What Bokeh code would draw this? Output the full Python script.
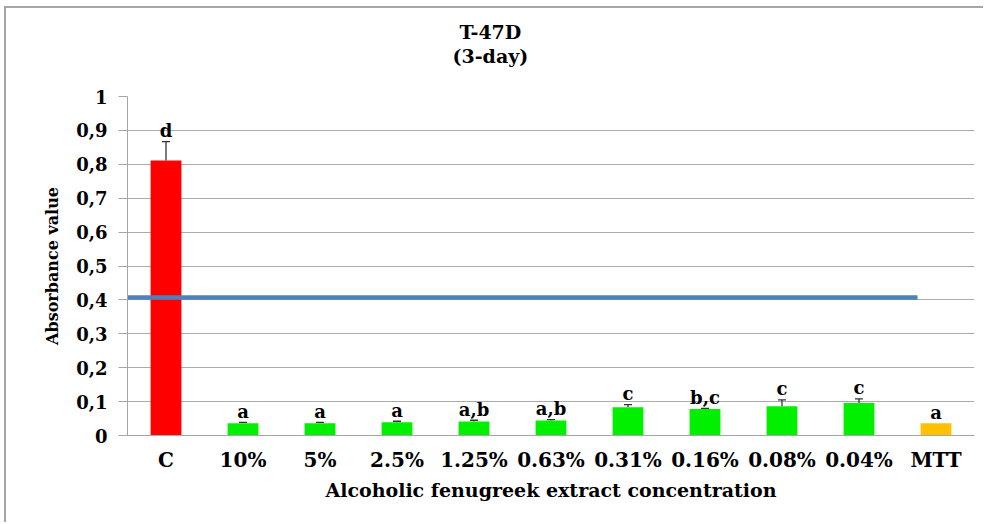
from bokeh.plotting import figure
from bokeh.models import (Range1d, FixedTicker, CustomJSTickFormatter, ColumnDataSource,
                          Whisker, TeeHead, Title)
from bokeh.embed import file_html
from bokeh.resources import INLINE
from bokeh.core.properties import value

# ---- data ----
categories = ["C", "10%", "5%", "2.5%", "1.25%", "0.63%", "0.31%", "0.16%", "0.08%", "0.04%", "MTT"]
absorbance = [0.811, 0.036, 0.036, 0.039, 0.041, 0.044, 0.083, 0.078, 0.086, 0.096, 0.036]
error = [0.056, 0.003, 0.003, 0.003, 0.004, 0.003, 0.008, 0.002, 0.019, 0.012, 0.0]
letters = ["d", "a", "a", "a", "a,b", "a,b", "c", "b,c", "c", "c", "a"]
bar_colors = ["#FF0000"] + ["#00F000"] * 9 + ["#FFC000"]
reference_level = 0.407
reference_x = [0.0, 10.26]
y_ticks = [0, 0.1, 0.2, 0.3, 0.4, 0.5, 0.6, 0.7, 0.8, 0.9, 1.0]
title_lines = ["T-47D", "(3-day)"]

FONT = "DejaVu Serif"

xs = [i + 0.5 for i in range(len(categories))]
tops = [v + e for v, e in zip(absorbance, error)]

src = ColumnDataSource(dict(x=xs, top=absorbance, color=bar_colors, upper=tops,
                            letter=letters, cat=categories))
wsrc = ColumnDataSource(dict(
    x=[x for x, e in zip(xs, error) if e > 0],
    lower=[v for v, e in zip(absorbance, error) if e > 0],
    upper=[t for t, e in zip(tops, error) if e > 0],
))

p = figure(width=979, height=516, output_backend="svg", toolbar_location=None,
           x_range=Range1d(0, len(categories)), y_range=Range1d(0, 1),
           min_border_left=121, min_border_right=11, min_border_top=88, min_border_bottom=89)
p.styles = {"border-top": "2px solid #a6a6a6", "border-left": "2px solid #a6a6a6",
            "margin-left": "4px", "margin-top": "6px"}
p.outline_line_color = None

p.vbar(x="x", top="top", width=0.4, bottom=0, color="color", line_color=None, source=src)

p.add_layout(Whisker(base="x", lower="lower", upper="upper", source=wsrc,
                     line_color="#333333", line_width=1.3,
                     upper_head=TeeHead(size=8, line_color="#333333", line_width=1.3),
                     lower_head=None))

p.line(x=reference_x, y=[reference_level, reference_level], line_color="#4F81BD", line_width=4.5)

p.text(x="x", y="upper", text="letter", source=src, text_align="center",
       text_baseline="alphabetic", y_offset=-11, text_font=value(FONT),
       text_font_style="bold", text_font_size="18px", text_color="#000000")

# titles
p.title.text = title_lines[0]
p.title.align = "left"
p.title.offset = 332
p.title.standoff = 0
p.title.text_font = FONT
p.title.text_font_style = "bold"
p.title.text_font_size = "19px"
p.title.text_color = "#000000"
# empty spacer between plot and the second title line
p.add_layout(Title(text=" ", standoff=27, text_font_size="1px"), "above")
p.add_layout(Title(text=title_lines[1], align="left", offset=325, standoff=0,
                   text_font=FONT, text_font_style="bold", text_font_size="19px",
                   text_line_height=1.0, text_color="#000000"), "above")

# axes
p.xaxis.ticker = FixedTicker(ticks=xs)
p.xaxis.major_label_overrides = {x: c for x, c in zip(xs, categories)}
p.xaxis.major_tick_out = 0
p.xaxis.major_tick_in = 0
p.xaxis.minor_tick_line_color = None
p.xaxis.axis_line_color = "#a6a6a6"
p.xaxis.major_label_text_font = FONT
p.xaxis.major_label_text_font_style = "bold"
p.xaxis.major_label_text_font_size = "20px"
p.xaxis.major_label_text_color = "#000000"
p.xaxis.major_label_standoff = 12
p.xaxis.axis_label = "Alcoholic fenugreek extract concentration"
p.xaxis.axis_label_text_font = FONT
p.xaxis.axis_label_text_font_style = "bold"
p.xaxis.axis_label_text_font_size = "19px"
p.xaxis.axis_label_text_color = "#000000"
p.xaxis.axis_label_standoff = 4

p.yaxis.ticker = FixedTicker(ticks=y_ticks)
p.yaxis.formatter = CustomJSTickFormatter(code="""
    if (Math.abs(tick) < 1e-9) return '0';
    if (Math.abs(tick - 1) < 1e-9) return '1';
    return tick.toFixed(1).replace('.', ',');
""")
p.yaxis.major_tick_out = 9
p.yaxis.major_tick_in = 0
p.yaxis.minor_tick_line_color = None
p.yaxis.major_tick_line_color = "#a6a6a6"
p.yaxis.axis_line_color = "#a6a6a6"
p.yaxis.major_label_text_font = FONT
p.yaxis.major_label_text_font_style = "bold"
p.yaxis.major_label_text_font_size = "18px"
p.yaxis.major_label_text_color = "#000000"
p.yaxis.major_label_standoff = 11
p.yaxis.axis_label = "Absorbance value"
p.yaxis.axis_label_text_font = FONT
p.yaxis.axis_label_text_font_style = "bold"
p.yaxis.axis_label_text_font_size = "16px"
p.yaxis.axis_label_text_color = "#000000"
p.yaxis.axis_label_standoff = 11

p.xgrid.grid_line_color = None
p.ygrid.grid_line_color = "#ababab"
p.ygrid.grid_line_width = 1

open("out.html", "w").write(file_html(p, INLINE))
